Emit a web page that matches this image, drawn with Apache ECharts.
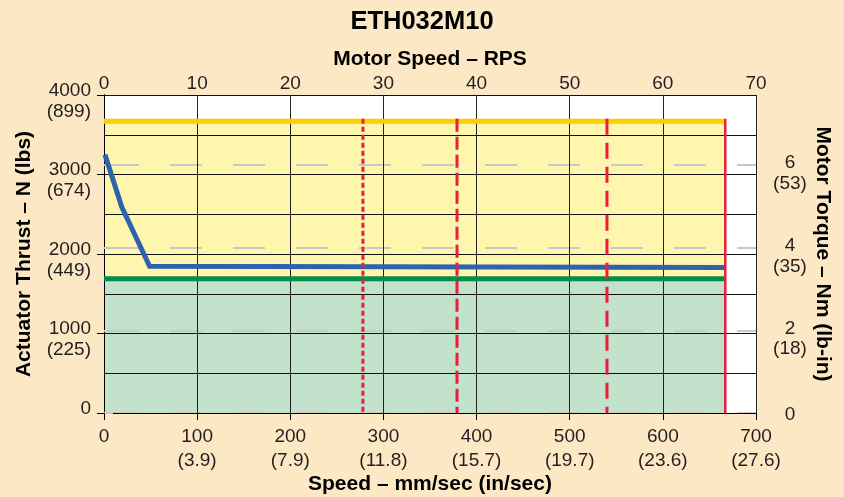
<!DOCTYPE html>
<html>
<head>
<meta charset="utf-8">
<script src="https://cdn.jsdelivr.net/npm/echarts@6/dist/echarts.min.js"></script>
<style>
html,body{margin:0;padding:0;background:#FDE8C6;}
#chart{width:844px;height:497px;}
</style>
</head>
<body>
<div id="chart"></div>
<script>
// ---- data ----
const speedTicks = [0, 100, 200, 300, 400, 500, 600, 700];          // mm/sec
const speedInch  = ['', '(3.9)', '(7.9)', '(11.8)', '(15.7)', '(19.7)', '(23.6)', '(27.6)'];
const thrustTicks = [0, 1000, 2000, 3000, 4000];                     // N
const thrustLbs   = ['', '(225)', '(449)', '(674)', '(899)'];
const torqueTicks = [0, 2, 4, 6];                                    // Nm
const torqueLbin  = ['', '(18)', '(35)', '(53)'];
const torqueMax = 7.7;
const rpsMax = 70;

const peakThrust = 3670;   // yellow line
const contThrust = 1690;   // green line
const maxSpeed = 667;      // red solid line
const blueSpeed  = [1, 19, 49, 667];
const blueThrust = [3250, 2594, 1845, 1830];
const criticalSpeeds = [278, 379, 540];
const criticalDash = [[5, 3], [13, 5], [16, 8]];

const FONT = 'Liberation Sans, Arial, sans-serif';
const TXT = '#231F20';

const chart = echarts.init(document.getElementById('chart'));

const series = [
  { type: 'line', name: 'peakFill', data: [[0, peakThrust], [maxSpeed, peakThrust]],
    symbol: 'none', lineStyle: { width: 0 }, areaStyle: { color: '#FFF6AE', opacity: 1 }, z: 0.8, silent: true },
  { type: 'line', name: 'contFill', data: [[0, contThrust], [maxSpeed, contThrust]],
    symbol: 'none', lineStyle: { width: 0 }, areaStyle: { color: '#C3E2CB', opacity: 1 }, z: 0.9, silent: true },
  { type: 'line', name: 'peak', data: [[0, peakThrust], [maxSpeed, peakThrust]],
    symbol: 'none', lineStyle: { width: 5, color: '#FFCB05' }, z: 3 },
  { type: 'line', name: 'cont', data: [[0, contThrust], [maxSpeed, contThrust]],
    symbol: 'none', lineStyle: { width: 5, color: '#008C4A' }, z: 3 },
  { type: 'line', name: 'thrust', data: blueSpeed.map((s, i) => [s, blueThrust[i]]),
    symbol: 'none', lineStyle: { width: 5, color: '#2E62AE', join: 'miter' }, z: 4 },
  { type: 'line', name: 'maxSpeed', data: [[maxSpeed, peakThrust + 30], [maxSpeed, 0]],
    symbol: 'none', lineStyle: { width: 2.5, color: '#EC1C3B' }, z: 5 }
];
criticalSpeeds.forEach((s, i) => {
  series.push({ type: 'line', name: 'crit' + i, data: [[s, peakThrust + 30], [s, 0]],
    symbol: 'none', lineStyle: { width: 3, color: '#EC1C3B', type: criticalDash[i] }, z: 5 });
});

const nameStyle = { fontFamily: FONT, fontWeight: 'bold', fontSize: 21, color: '#000' };

const option = {
  backgroundColor: '#FDE8C6',
  animation: false,
  title: {
    text: 'ETH032M10', left: 'center', top: 4,
    textStyle: { fontFamily: FONT, fontWeight: 'bold', fontSize: 25.5, color: '#000' }
  },
  grid: { left: 104, right: 88, top: 95, bottom: 84, show: true, backgroundColor: '#FFFFFF', borderWidth: 0,
    containLabel: false, outerBoundsMode: 'none' },
  xAxis: [
    { type: 'value', position: 'bottom', min: 0, max: 700, interval: 100, z: 1.5,
      name: 'Speed – mm/sec (in/sec)', nameLocation: 'middle', nameGap: 61, nameMoveOverlap: false,
      nameTextStyle: nameStyle,
      axisLine: { lineStyle: { color: '#000', width: 1 } },
      axisTick: { show: true, length: 7, lineStyle: { color: '#000' } },
      splitLine: { show: true, lineStyle: { color: '#222', width: 1 } },
      axisLabel: { margin: 12.5, fontFamily: FONT, fontSize: 19, color: TXT, lineHeight: 23.5,
        formatter: v => { const i = speedTicks.indexOf(v); return i > 0 ? v + '\n' + speedInch[i] : String(v); } } },
    { type: 'value', position: 'top', min: 0, max: rpsMax, interval: 10, z: 1.5,
      name: 'Motor Speed – RPS', nameLocation: 'middle', nameGap: 25, nameMoveOverlap: false,
      nameTextStyle: nameStyle,
      axisLine: { lineStyle: { color: '#000', width: 1 } },
      axisTick: { show: false }, splitLine: { show: false },
      axisLabel: { margin: 0.5, fontFamily: FONT, fontSize: 19, color: TXT, lineHeight: 22 } }
  ],
  yAxis: [
    { type: 'value', position: 'left', min: 0, max: 4000, interval: 1000, z: 1.5,
      name: 'Actuator Thrust – N (lbs)', nameLocation: 'middle', nameGap: 69, nameMoveOverlap: false,
      nameTextStyle: nameStyle,
      axisLine: { show: true, lineStyle: { color: '#000', width: 1 } },
      axisTick: { show: true, length: 7, lineStyle: { color: '#000' } },
      splitLine: { show: true, lineStyle: { color: '#111', width: 1 } },
      minorTick: { show: false, splitNumber: 2 },
      minorSplitLine: { show: true, lineStyle: { color: '#111', width: 1 } },
      axisLabel: { margin: 13, fontFamily: FONT, fontSize: 19, color: TXT, align: 'right', verticalAlign: 'middle',
        formatter: v => { const i = thrustTicks.indexOf(v); return '{a|' + v + '}\n{b|' + (thrustLbs[i] || ' ') + '}'; },
        rich: { a: { fontFamily: FONT, fontSize: 19, color: TXT, lineHeight: 33, align: 'right' },
                b: { fontFamily: FONT, fontSize: 19, color: TXT, lineHeight: 9, align: 'right' } } } },
    { type: 'value', position: 'right', min: 0, max: torqueMax, interval: 2, z: 1.5,
      name: 'Motor Torque – Nm (lb-in)', nameLocation: 'middle', nameGap: 56, nameRotate: -90, nameMoveOverlap: false,
      nameTextStyle: nameStyle,
      axisLine: { show: true, lineStyle: { color: '#000', width: 1 } },
      axisTick: { show: true, length: 9, customValues: torqueTicks, lineStyle: { color: '#C8C8C8', width: 2 } },
      splitLine: { show: true, lineStyle: { color: '#C8C8C8', width: 2, type: [32, 31], dashOffset: 60 } },
      axisLabel: { margin: 34, customValues: torqueTicks, fontFamily: FONT, fontSize: 19, color: TXT, align: 'center', verticalAlign: 'middle',
        formatter: v => { const i = torqueTicks.indexOf(v); if (i < 0) return ''; if (i === 0) return '{c|0}'; return '{a|' + v + '}\n{b|' + torqueLbin[i] + '}'; },
        rich: { a: { fontFamily: FONT, fontSize: 19, color: TXT, lineHeight: 37, align: 'center' },
                b: { fontFamily: FONT, fontSize: 19, color: TXT, lineHeight: 4, align: 'center' },
                c: { fontFamily: FONT, fontSize: 19, color: TXT, lineHeight: 22, align: 'center', padding: [3, 0, 0, 0] } } } }
  ],
  series: series
};
chart.setOption(option);
</script>
</body>
</html>
